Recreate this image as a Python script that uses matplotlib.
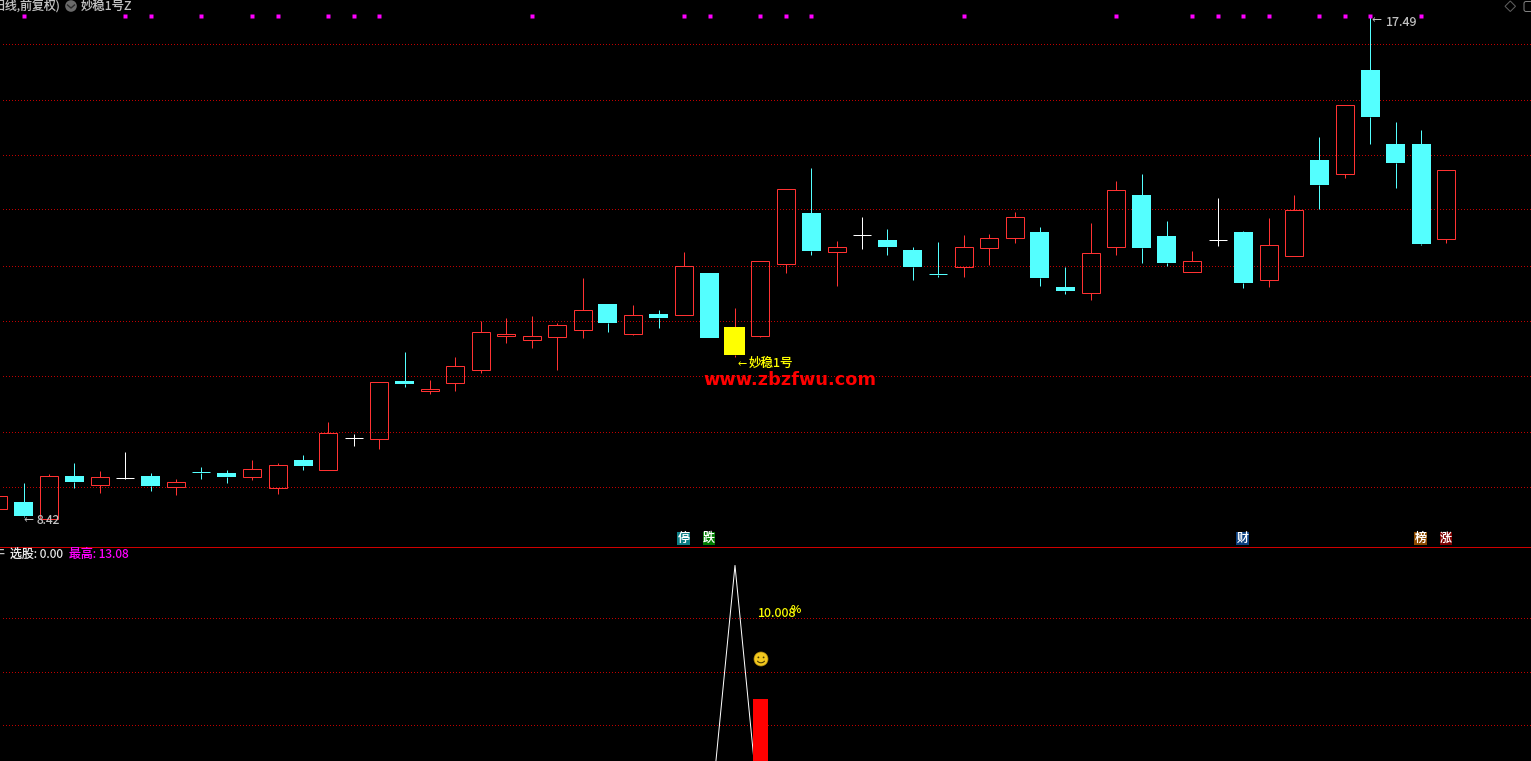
import matplotlib
matplotlib.use("Agg")
import matplotlib.pyplot as plt
import numpy as np
from matplotlib.patches import Circle, Polygon, FancyBboxPatch, Arc

plt.rcParams['font.family'] = ['Noto Sans CJK SC', 'DejaVu Sans']
plt.rcParams['text.hinting'] = 'native'

# ---- data ----
kinds = [
 'r','c','r','c','r','w','c','r','c','c','r','r','c','r','w','r','c','r','r','r',
 'r','r','r','r','c','r','c','r','c','y','r','r','c','r','w','c','c','c','r','r',
 'r','c','c','r','r','c','c','r','w','c','r','r','c','r','c','c','c','r']
highs = [8.797,9.036,9.198,9.396,9.252,9.594,9.216,9.108,9.324,9.27,9.45,9.396,9.54,10.134,9.918,10.849,11.394,10.89,11.304,11.952,
 12.006,12.042,11.916,12.726,12.258,12.24,12.15,13.194,12.816,12.186,13.027,14.323,14.706,13.392,13.824,13.608,13.284,13.374,13.5,13.518,
 13.914,13.644,12.924,13.716,14.472,14.598,13.752,13.212,14.166,13.572,13.806,14.22,15.264,15.835,17.424,15.534,15.39,14.665]
tops = [8.797,8.694,9.157,9.162,9.139,9.117,9.162,9.049,9.234,9.216,9.283,9.355,9.45,9.931,9.855,10.849,10.872,10.728,11.137,11.749,
 11.718,11.677,11.875,12.145,12.258,12.055,12.078,12.937,12.816,11.844,13.027,14.323,13.896,13.279,13.495,13.41,13.23,12.798,13.279,13.441,
 13.819,13.554,12.564,13.171,14.305,14.22,13.482,13.027,13.405,13.554,13.315,13.945,14.85,15.835,16.47,15.138,15.138,14.665]
bottoms = [8.573,8.442,8.393,9.054,9.005,9.117,8.982,8.969,9.221,9.144,9.149,8.951,9.342,9.275,9.855,9.833,10.818,10.692,10.841,11.075,
 11.682,11.615,11.669,11.795,11.916,11.723,12.006,12.065,11.646,11.34,11.687,12.983,13.212,13.199,13.495,13.284,12.924,12.78,12.929,13.271,
 13.451,12.726,12.492,12.461,13.289,13.266,12.996,12.839,13.405,12.636,12.695,13.127,14.4,14.603,15.624,14.796,13.338,13.433]
lows = [8.573,8.424,8.393,8.946,8.856,9.108,8.892,8.82,9.108,9.036,9.09,8.838,9.27,9.275,9.702,9.648,10.764,10.638,10.692,11.016,
 11.556,11.466,11.07,11.646,11.754,11.70,11.826,12.065,11.646,11.304,11.664,12.816,13.14,12.582,13.248,13.14,12.69,12.744,12.744,12.96,
 13.356,12.582,12.438,12.33,13.14,12.996,12.942,12.839,13.302,12.546,12.564,13.127,13.968,14.526,15.138,14.346,13.32,13.356]
signal_idx = [1,5,6,8,10,11,13,14,15,21,27,28,30,31,32,38,44,47,48,49,50,52,53,54,56]
signal_level = 17.451
price_grid = [16.929,15.921,14.931,13.941,12.933,11.943,10.944,9.945,8.955]

tags = ['停','跌','财','榜','涨']
tag_idx = [27,28,49,56,57]
tag_colors = ['#0d7f86','#007d00','#0b4080','#8a4a00','#800000']

sub_idx = [28,29,30]
sub_line = [0.0,13.08,0.0]
sub_bar_idx = [30]
sub_bar = [6.39]
sub_grid = [10.4,7.67,5.02]

RED, CYAN, YELLOW = '#ff3232', '#54ffff', '#ffff00'
GRID = '#c00000'
GREY = '#c0c0c0'
MAGENTA = '#ff00ff'
W, H = 1531, 761
PX = 0.72
unit = 25.41                # pixels per bar
colmap = {'r': RED, 'c': CYAN, 'w': '#ffffff', 'y': RED}

fig = plt.figure(figsize=(W/100, H/100), dpi=100, facecolor='black')
ax = fig.add_axes([0, 1-546/H, 1, 546/H], facecolor='black')
ax2 = fig.add_axes([0, 0, 1, 214.5/H], facecolor='black')
over = fig.add_axes([0, 0, 1, 1], facecolor='none')
over.set_xlim(0, W); over.set_ylim(H, 0); over.axis('off')

xlim = (1.9/unit, (W+1.9)/unit)
for a in (ax, ax2):
    a.set_xlim(*xlim)
    a.set_xticks([]); a.set_yticks([])
    for s in a.spines.values():
        s.set_visible(False)
ax.set_ylim(7.902, 17.73)
ax2.set_ylim(3.27, 14.03)

# dotted grid: single device pixels every third pixel
dot_x = (np.arange(2, W, 3) + 2.4) / unit
for a, levels in ((ax, price_grid), (ax2, sub_grid)):
    for lv in levels:
        a.plot(dot_x, [lv]*len(dot_x), ls='none', marker=',', color=GRID, zorder=1)

# pane divider
ax2.plot([*xlim], [14.03, 14.03], color='#d00000', lw=PX, snap=True,
         clip_on=False, zorder=5)

# candles
for i, k in enumerate(kinds):
    c = colmap[k]
    ax.vlines(i, tops[i], highs[i], color=c, lw=PX, snap=True, zorder=2)
    ax.vlines(i, lows[i], bottoms[i], color=c, lw=PX, snap=True, zorder=2)
    h = tops[i] - bottoms[i]
    if h < 0.03:
        ax.hlines(tops[i], i-9/unit, i+9/unit, color=c, lw=PX, snap=True, zorder=3)
    elif k == 'r':
        ax.bar(i, h, bottom=bottoms[i], width=18/unit, facecolor='none', edgecolor=RED,
               lw=PX, snap=True, zorder=3)
    elif k == 'c':
        ax.bar(i, h, bottom=bottoms[i], width=19/unit, color=CYAN, lw=0, antialiased=False, zorder=3)
    elif k == 'y':
        ax.bar(i, h, bottom=bottoms[i], width=21/unit, color=YELLOW, lw=0, antialiased=False, zorder=3)

ax.plot(signal_idx, [signal_level]*len(signal_idx), ls='none', marker='s', ms=2.2,
        mfc=MAGENTA, mec='none', antialiased=False, zorder=4)

# lower pane
ax2.plot(sub_idx, sub_line, color='white', lw=PX, antialiased=True, zorder=3)
ax2.bar(sub_bar_idx, sub_bar, width=15/unit, color='#ff0000', lw=0, antialiased=False, zorder=4)

# tags sitting on the pane divider
for t, i, col in zip(tags, tag_idx, tag_colors):
    ax.text(i-0.02, 7.902 + 7.6*0.018, t, color='white', fontsize=8.6,
            ha='center', va='center', zorder=6,
            bbox=dict(boxstyle='square,pad=0.03', fc=col, ec='none'))

CJK = ['Noto Sans CJK SC', 'DejaVu Sans']
# header text
over.text(-7, 6, '日线,前复权)', color=GREY, fontsize=8.6, ha='left', va='center', family=CJK)
over.add_patch(Circle((71, 6), 5.8, fc='#6a6a6a', ec='none'))
over.plot([67.5, 71, 74.5], [5, 8, 5], color='#2a2a2a', lw=1)
over.text(81, 6, '妙稳1号Z', color=GREY, fontsize=8.9, ha='left', va='center', family=CJK)

# top right icons
over.add_patch(Polygon([(1510.3, 1), (1515.5, 6.3), (1510.3, 11.5), (1505, 6.3)], closed=True,
                       fc='none', ec='#606060', lw=0.72))
over.add_patch(FancyBboxPatch((1524, 1.5), 12, 10, boxstyle='round,pad=0,rounding_size=2',
                              fc='none', ec='#808080', lw=0.72))

# price annotations
over.text(23, 520, '←', color=GREY, fontsize=8.6, ha='left', va='center', family=['DejaVu Sans'])
over.text(36.5, 520.5, '8.42', color=GREY, fontsize=8.6, ha='left', va='center', family=CJK)
over.text(1371, 20, '←', color=GREY, fontsize=8.6, ha='left', va='center', family=['DejaVu Sans'])
over.text(1385, 22.5, '17.49', color=GREY, fontsize=9, ha='left', va='center', family=CJK)

over.text(738, 363, '←', color=YELLOW, fontsize=8, ha='left', va='center', family=['DejaVu Sans'])
over.text(749, 363, '妙稳1号', color=YELLOW, fontsize=9, ha='left', va='center', family=CJK)
over.text(703, 380, 'www.zbzfwu.com', color='#ff0000', fontsize=12.8, fontweight='bold',
          ha='left', va='center', family=['DejaVu Sans'])

# lower pane text
over.text(4.5, 554.5, '干', color=GREY, fontsize=8.6, ha='right', va='center', family=CJK)
over.text(10, 555, '选股: 0.00', color='#e8e8e8', fontsize=8.6, ha='left', va='center', family=CJK)
over.text(69, 555, '最高: 13.08', color=MAGENTA, fontsize=8.6, ha='left', va='center', family=CJK)
over.text(757, 613.5, '10.008', color=YELLOW, fontsize=9, ha='left', va='center', family=CJK)
over.text(791, 610, '%', color=YELLOW, fontsize=8, ha='left', va='center', family=CJK)

# smiley
sx, sy = 761, 659
over.add_patch(Circle((sx, sy), 7, fc='#f2c81e', ec='#b08a10', lw=0.5))
over.add_patch(Circle((sx-2.6, sy-1.6), 0.9, fc='#4a3a00', ec='none'))
over.add_patch(Circle((sx+2.6, sy-1.6), 0.9, fc='#4a3a00', ec='none'))
over.add_patch(Arc((sx, sy+0.5), 8, 6.5, theta1=20, theta2=160, ec='#4a3a00', lw=0.8))

fig.savefig('out.png', dpi=100, facecolor='black')
